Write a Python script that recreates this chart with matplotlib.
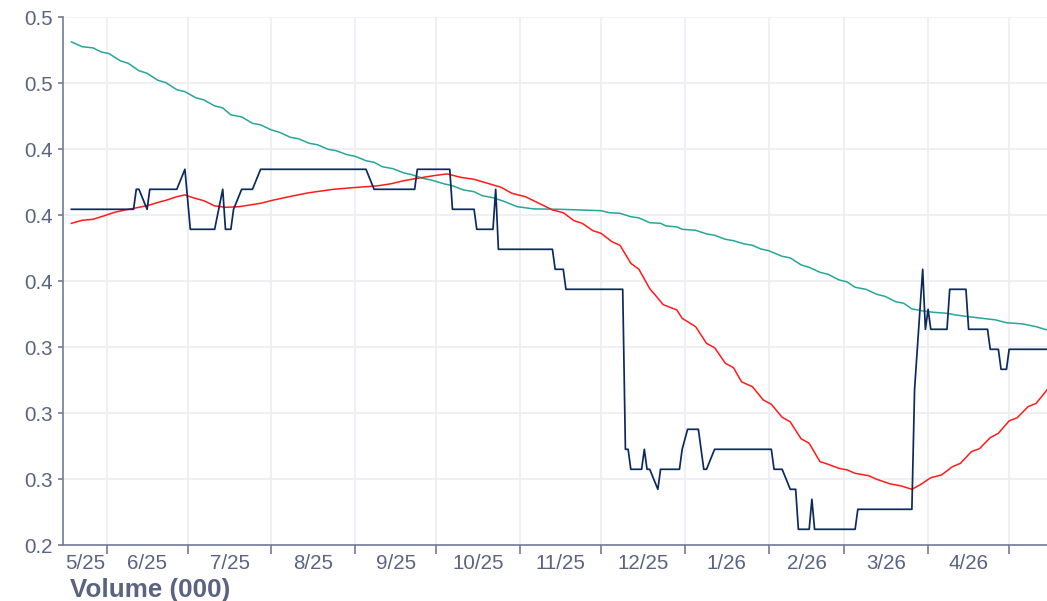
import matplotlib
matplotlib.use('Agg')
import matplotlib.pyplot as plt
import matplotlib.dates as mdates
import matplotlib.ticker as mticker
import pandas as pd

# ---------------- data ----------------
price_dates = ['2025-05-19', '2025-06-11', '2025-06-12', '2025-06-13', '2025-06-16', '2025-06-17',
               '2025-06-27', '2025-06-30', '2025-07-02', '2025-07-11', '2025-07-14', '2025-07-15',
               '2025-07-17', '2025-07-18', '2025-07-21', '2025-07-25', '2025-07-28', '2025-09-05',
               '2025-09-08', '2025-09-23', '2025-09-24', '2025-10-06', '2025-10-07', '2025-10-15',
               '2025-10-16', '2025-10-22', '2025-10-23', '2025-10-24', '2025-11-13', '2025-11-14',
               '2025-11-17', '2025-11-18', '2025-12-09', '2025-12-10', '2025-12-11', '2025-12-12',
               '2025-12-16', '2025-12-17', '2025-12-18', '2025-12-19', '2025-12-22', '2025-12-23',
               '2025-12-30', '2025-12-31', '2026-01-02', '2026-01-06', '2026-01-08', '2026-01-09',
               '2026-01-12', '2026-02-02', '2026-02-03', '2026-02-06', '2026-02-09', '2026-02-11',
               '2026-02-12', '2026-02-16', '2026-02-17', '2026-02-18', '2026-03-05', '2026-03-06',
               '2026-03-26', '2026-03-27', '2026-03-30', '2026-03-31', '2026-04-01', '2026-04-02',
               '2026-04-08', '2026-04-09', '2026-04-15', '2026-04-16', '2026-04-23', '2026-04-24',
               '2026-04-27', '2026-04-28', '2026-04-30', '2026-05-01', '2026-05-15']
price_values = [0.40, 0.40, 0.41, 0.41, 0.40, 0.41,
                0.41, 0.42, 0.39, 0.39, 0.41, 0.39,
                0.39, 0.40, 0.41, 0.41, 0.42, 0.42,
                0.41, 0.41, 0.42, 0.42, 0.40, 0.40,
                0.39, 0.39, 0.41, 0.38, 0.38, 0.37,
                0.37, 0.36, 0.36, 0.28, 0.28, 0.27,
                0.27, 0.28, 0.27, 0.27, 0.26, 0.27,
                0.27, 0.28, 0.29, 0.29, 0.27, 0.27,
                0.28, 0.28, 0.27, 0.27, 0.26, 0.26,
                0.24, 0.24, 0.255, 0.24, 0.24, 0.25,
                0.25, 0.31, 0.37, 0.34, 0.35, 0.34,
                0.34, 0.36, 0.36, 0.34, 0.34, 0.33,
                0.33, 0.32, 0.32, 0.33, 0.33]

ma_fast_dates = ['2025-05-19', '2025-05-23', '2025-05-27', '2025-05-31', '2025-06-04', '2025-06-08',
                 '2025-06-13', '2025-06-16', '2025-06-21', '2025-06-23', '2025-06-27', '2025-06-30',
                 '2025-07-03', '2025-07-07', '2025-07-11', '2025-07-15', '2025-07-20', '2025-07-28',
                 '2025-08-02', '2025-08-09', '2025-08-15', '2025-08-24', '2025-08-31', '2025-09-09',
                 '2025-09-14', '2025-09-19', '2025-09-24', '2025-09-30', '2025-10-05', '2025-10-10',
                 '2025-10-15', '2025-10-20', '2025-10-25', '2025-10-29', '2025-11-03', '2025-11-08',
                 '2025-11-13', '2025-11-17', '2025-11-21', '2025-11-24', '2025-11-28', '2025-12-01',
                 '2025-12-05', '2025-12-08', '2025-12-12', '2025-12-15', '2025-12-19', '2025-12-21',
                 '2025-12-24', '2025-12-29', '2025-12-31', '2026-01-05', '2026-01-09', '2026-01-12',
                 '2026-01-16', '2026-01-19', '2026-01-22', '2026-01-26', '2026-01-30', '2026-02-02',
                 '2026-02-06', '2026-02-09', '2026-02-13', '2026-02-16', '2026-02-20', '2026-02-22',
                 '2026-02-27', '2026-03-02', '2026-03-05', '2026-03-10', '2026-03-13', '2026-03-18',
                 '2026-03-22', '2026-03-26', '2026-03-29', '2026-04-02', '2026-04-06', '2026-04-10',
                 '2026-04-13', '2026-04-17', '2026-04-20', '2026-04-24', '2026-04-27', '2026-05-01',
                 '2026-05-04', '2026-05-08', '2026-05-11', '2026-05-15']
ma_fast_values = [0.3930, 0.3945, 0.3950, 0.3967, 0.3985, 0.3997,
                  0.4010, 0.4018, 0.4038, 0.4045, 0.4063, 0.4072,
                  0.4058, 0.4043, 0.4017, 0.4010, 0.4013, 0.4030,
                  0.4047, 0.4067, 0.4083, 0.4100, 0.4108, 0.4117,
                  0.4127, 0.4143, 0.4155, 0.4168, 0.4177, 0.4160,
                  0.4150, 0.4130, 0.4110, 0.4080, 0.4063, 0.4030,
                  0.3997, 0.3983, 0.3943, 0.3930, 0.3893, 0.3880,
                  0.3838, 0.3820, 0.3730, 0.3700, 0.3603, 0.3572,
                  0.3523, 0.3497, 0.3455, 0.3413, 0.3330, 0.3308,
                  0.3230, 0.3208, 0.3137, 0.3113, 0.3047, 0.3025,
                  0.2960, 0.2937, 0.2853, 0.2830, 0.2738, 0.2730,
                  0.2705, 0.2697, 0.2680, 0.2668, 0.2650, 0.2627,
                  0.2617, 0.2600, 0.2622, 0.2658, 0.2672, 0.2713,
                  0.2730, 0.2788, 0.2803, 0.2858, 0.2880, 0.2942,
                  0.2958, 0.3013, 0.3030, 0.3097]

ma_slow_dates = ['2025-05-19', '2025-05-23', '2025-05-27', '2025-05-30', '2025-06-02', '2025-06-06',
                 '2025-06-09', '2025-06-13', '2025-06-16', '2025-06-20', '2025-06-23', '2025-06-27',
                 '2025-06-30', '2025-07-04', '2025-07-07', '2025-07-11', '2025-07-14', '2025-07-17',
                 '2025-07-21', '2025-07-25', '2025-07-28', '2025-08-01', '2025-08-04', '2025-08-08',
                 '2025-08-11', '2025-08-15', '2025-08-18', '2025-08-22', '2025-08-25', '2025-08-29',
                 '2025-09-01', '2025-09-05', '2025-09-08', '2025-09-11', '2025-09-15', '2025-09-19',
                 '2025-09-22', '2025-09-26', '2025-09-29', '2025-10-04', '2025-10-07', '2025-10-11',
                 '2025-10-15', '2025-10-18', '2025-10-22', '2025-10-26', '2025-10-31', '2025-11-06',
                 '2025-11-16', '2025-12-01', '2025-12-04', '2025-12-08', '2025-12-12', '2025-12-15',
                 '2025-12-19', '2025-12-23', '2025-12-25', '2025-12-29', '2025-12-31', '2026-01-05',
                 '2026-01-09', '2026-01-12', '2026-01-16', '2026-01-19', '2026-01-23', '2026-01-26',
                 '2026-01-29', '2026-02-01', '2026-02-06', '2026-02-09', '2026-02-13', '2026-02-16',
                 '2026-02-20', '2026-02-23', '2026-02-27', '2026-03-02', '2026-03-05', '2026-03-09',
                 '2026-03-13', '2026-03-16', '2026-03-20', '2026-03-23', '2026-03-26', '2026-03-30',
                 '2026-04-03', '2026-04-08', '2026-04-11', '2026-04-16', '2026-04-21', '2026-04-26',
                 '2026-04-30', '2026-05-06', '2026-05-11', '2026-05-15']
ma_slow_values = [0.4837, 0.4813, 0.4807, 0.4787, 0.4778, 0.4743,
                  0.4730, 0.4693, 0.4680, 0.4645, 0.4633, 0.4598,
                  0.4588, 0.4558, 0.4547, 0.4517, 0.4507, 0.4472,
                  0.4462, 0.4430, 0.4422, 0.4397, 0.4385, 0.4360,
                  0.4353, 0.4330, 0.4323, 0.4300, 0.4293, 0.4273,
                  0.4265, 0.4243, 0.4235, 0.4213, 0.4203, 0.4182,
                  0.4173, 0.4155, 0.4147, 0.4127, 0.4118, 0.4097,
                  0.4088, 0.4068, 0.4058, 0.4040, 0.4013, 0.4002,
                  0.4000, 0.3993, 0.3983, 0.3980, 0.3963, 0.3957,
                  0.3933, 0.3930, 0.3917, 0.3912, 0.3900, 0.3895,
                  0.3877, 0.3870, 0.3850, 0.3843, 0.3827, 0.3820,
                  0.3802, 0.3793, 0.3765, 0.3757, 0.3722, 0.3710,
                  0.3685, 0.3675, 0.3647, 0.3637, 0.3610, 0.3600,
                  0.3575, 0.3565, 0.3538, 0.3530, 0.3502, 0.3492,
                  0.3485, 0.3480, 0.3472, 0.3463, 0.3455, 0.3447,
                  0.3433, 0.3427, 0.3413, 0.3397]

x_tick_labels = ['5/25', '6/25', '7/25', '8/25', '9/25', '10/25', '11/25', '12/25',
                 '1/26', '2/26', '3/26', '4/26']
y_tick_values = [0.232, 0.265, 0.298, 0.331, 0.364, 0.397, 0.430, 0.463, 0.496]
y_tick_labels = ['0.2', '0.3', '0.3', '0.3', '0.4', '0.4', '0.4', '0.5', '0.5']
x_range = ['2025-05-16', '2026-05-15']
subtitle = 'Volume (000)'

# ---------------- style ----------------
TEXT = '#5a6481'
AXIS = '#737b95'
GRID = '#eceef4'
C_PRICE = '#0c2a5c'
C_FAST = '#ff1a1a'
C_SLOW = '#26a69a'

plt.rcParams['font.family'] = ['Liberation Sans', 'DejaVu Sans']

W, H = 1047, 601
fig = plt.figure(figsize=(W / 100, H / 100), dpi=100)
left_px, right_px, top_px, bot_px = 63.3, 1047, 17.3, 545.3
ax = fig.add_axes([left_px / W, 1 - bot_px / H, (right_px - left_px) / W, (bot_px - top_px) / H])

pd_price = pd.to_datetime(price_dates)
pd_fast = pd.to_datetime(ma_fast_dates)
pd_slow = pd.to_datetime(ma_slow_dates)

ax.plot(pd_slow, ma_slow_values, color=C_SLOW, lw=1.1, zorder=3)
ax.plot(pd_fast, ma_fast_values, color=C_FAST, lw=1.1, zorder=4)
ax.plot(pd_price, price_values, color=C_PRICE, lw=1.25, zorder=5)

xmin, xmax = pd.to_datetime(x_range[0]), pd.to_datetime(x_range[1])
ax.set_xlim(xmin, xmax)
ax.set_ylim(y_tick_values[0], y_tick_values[-1])

# month boundaries (major ticks, gridlines), labels centred in each month period
month_starts = pd.date_range('2025-06-01', '2026-05-01', freq='MS')
ax.set_xticks(month_starts)
ax.set_xticklabels([''] * len(month_starts))
bounds = [xmin] + list(month_starts)
label_pos = [bounds[i] + (bounds[i + 1] - bounds[i]) / 2 for i in range(len(x_tick_labels))]
ax.set_xticks(label_pos, minor=True)
ax.set_xticklabels(x_tick_labels, minor=True)
ax.tick_params(axis='x', which='major', length=6.5, width=1.2, color=AXIS, direction='out')
ax.tick_params(axis='x', which='minor', length=0, pad=6.6, labelsize=14.8, labelcolor=TEXT)

ax.set_yticks(y_tick_values)
ax.set_yticklabels(y_tick_labels)
ax.tick_params(axis='y', length=3.6, width=1.2, color=AXIS, pad=4.0, labelsize=14.8, labelcolor=TEXT)

ax.grid(True, which='major', axis='both', color=GRID, lw=1.2, zorder=0)
ax.set_axisbelow(True)
for s in ['top', 'right']:
    ax.spines[s].set_visible(False)
for s in ['left', 'bottom']:
    ax.spines[s].set_color(AXIS)
    ax.spines[s].set_linewidth(1.2)

fig.text(70 / W, 1 - 597 / H, subtitle, fontsize=18.7, fontweight='bold', color=TEXT,
         ha='left', va='baseline')

fig.savefig('out.png', dpi=100)
